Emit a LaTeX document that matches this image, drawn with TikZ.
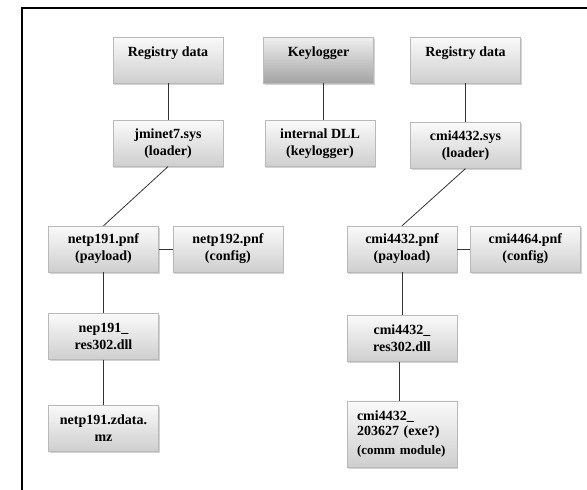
\documentclass[tikz,border=0pt]{standalone}
\usepackage{fontspec}
\setmainfont{Liberation Serif}
\usepackage{tikz}
\usetikzlibrary{positioning}
\usetikzlibrary{shadows}
\tikzset{
  filenode/.style = {align=center, inner sep=0pt, text centered,
    font=\fontsize{14}{17}\selectfont\bfseries, draw=gray!55, thin,
    minimum width=110pt, minimum height=46pt,
    top color=gray!4, bottom color=gray!38,
    drop shadow={shadow xshift=1.2pt, shadow yshift=-1.8pt, opacity=.35}},% fichier, boite claire
  file_top/.style = {filenode, text height=12pt, text depth=20pt},% texte en haut
  file_dark/.style = {file_top, top color=gray!12, bottom color=gray!72},% keylogger
  file_comm/.style = {filenode, align=left, text width=90pt,
    minimum height=66pt, font=\fontsize{14}{15}\selectfont\bfseries},% module comm
  link/.style = {draw=black!80, line width=.8pt}
}

\begin{document}
\begin{tikzpicture}[x=1pt,y=-1pt]
\useasboundingbox (0,0) rectangle (587,490);
\draw[line width=1.1pt] (22,490) -- (22,8) -- (587,8);

\node [file_top] (regL) at (168,60) {Registry data};
\node [filenode, below=37pt of regL] (jmi) {jminet7.sys\\(loader)};
\node [file_dark] (keyl) at (318.5,60) {Keylogger};
\node [filenode, below=37pt of keyl, xshift=1.5pt] (kdll) {internal DLL\\(keylogger)};
\node [file_top] (regR) at (465.5,60) {Registry data};
\node [filenode, below=39pt of regR] (cmisys) {cmi4432.sys\\(loader)};

\node [filenode] (netp191) at (103.5,249) {netp191.pnf\\(payload)};
\node [filenode, right=14pt of netp191] (netp192) {netp192.pnf\\(config)};
\node [filenode, below=41pt of netp191] (nres) {nep191\_\\res302.dll};
\node [filenode, below=45pt of nres] (zdata) {netp191.zdata.\\mz};

\node [filenode] (cmipnf) at (402,249) {cmi4432.pnf\\(payload)};
\node [filenode, right=13pt of cmipnf] (cmicfg) {cmi4464.pnf\\(config)};
\node [filenode, below=43pt of cmipnf] (cres) {cmi4432\_\\res302.dll};
\node [file_comm, below=39pt of cres] (comm) {cmi4432\_\\203627 (exe?)\\[4pt]
  {\fontsize{13}{15}\selectfont (comm module)}};

%\node at (keyl) [yshift=-0.5cm] {dll};
\draw [link] (regL) -- (jmi);
\draw [link] (keyl.south -| 323,0) -- (kdll.north -| 323,0);
\draw [link] (regR) -- (cmisys);
\draw [link] (jmi.south) -- (netp191.north);
\draw [link] (cmisys.south) -- (cmipnf.north);
\draw [link] (netp191) -- (netp192);
\draw [link] (cmipnf) -- (cmicfg);
\draw [link] (netp191) -- (nres);
\draw [link] (nres) -- (zdata);
\draw [link] (cmipnf) -- (cres);
\draw [link] (cres.south -| 399,0) -- (comm.north -| 399,0);
\end{tikzpicture}
\end{document}
